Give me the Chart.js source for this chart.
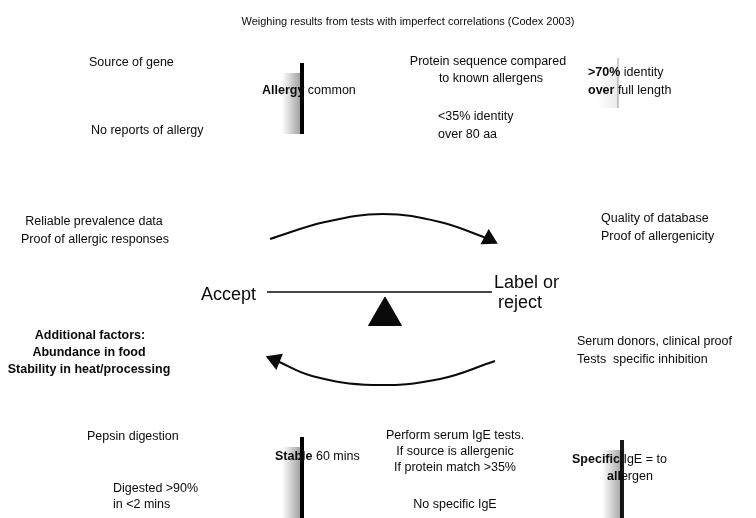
<!DOCTYPE html>
<html lang="en">
<head>
<meta charset="UTF-8">
<title>Weighing results from tests with imperfect correlations</title>
<script src="https://cdn.jsdelivr.net/npm/chart.js"></script>
<style>
    body {
        margin: 0;
        padding: 0;
        background-color: #ffffff;
        overflow: hidden;
    }
    .wrap {
        position: relative;
        width: 756px;
        height: 518px;
    }
</style>
</head>
<body>
<div class="wrap"><canvas id="diagram"></canvas></div>
<script>
    // Title
    const titleText = 'Weighing results from tests with imperfect correlations (Codex 2003)';
    const titlePos = [408, 22];

    // Small notes, *...* marks the bold part
    const noteText = [
        'Source of gene', '*Allergy* common', 'No reports of allergy',
        'Protein sequence compared', 'to known allergens',
        '*>70%* identity', '*over* full length',
        '<35% identity', 'over 80 aa',
        'Reliable prevalence data', 'Proof of allergic responses',
        'Quality of database', 'Proof of allergenicity',
        '*Additional factors:*', '*Abundance in food*', '*Stability in heat/processing*',
        'Serum donors, clinical proof', 'Tests  specific inhibition',
        'Pepsin digestion', '*Stable* 60 mins', 'Digested >90%', 'in <2 mins',
        'Perform serum IgE tests.', 'If source is allergenic', 'If protein match >35%', 'No specific IgE',
        '*Specific* IgE = to', '*all*ergen'
    ];
    const noteX = [
        89, 262, 91,
        488, 491,
        588, 588,
        438, 438,
        94, 95,
        601, 601,
        90, 89, 89,
        577, 577,
        87, 275, 113, 113,
        455, 455, 455, 455,
        572, 607
    ];
    const noteY = [
        63, 91, 131,
        62, 79,
        73, 91,
        117, 135,
        222, 240,
        219, 237,
        336, 353, 370,
        342, 360,
        437, 457, 489, 505,
        436, 452, 468, 505,
        460, 477
    ];
    const noteAlign = [
        'left', 'left', 'left',
        'center', 'center',
        'left', 'left',
        'left', 'left',
        'center', 'center',
        'left', 'left',
        'center', 'center', 'center',
        'left', 'left',
        'left', 'left', 'left', 'left',
        'center', 'center', 'center', 'center',
        'left', 'left'
    ];

    // Balance labels
    const scaleText = ['Accept', 'Label or', 'reject'];
    const scaleX = [256, 494, 498];
    const scaleY = [295, 283, 303];
    const scaleAlign = ['right', 'left', 'left'];

    // Balance beam and fulcrum
    const beamX = [267, 492];
    const beamY = [292, 292];
    const fulcrum = [385, 316];

    // Arrows (last point carries the head)
    const arcTopX = [270, 325, 383, 440, 489];
    const arcTopY = [239, 222, 214, 222, 239];
    const arcBottomX = [495, 440, 373, 312, 275];
    const arcBottomY = [361, 379, 385, 376, 360];

    // Weighing gauges: x, top, bottom, ink strength
    const gaugeX = [302, 618, 302, 622];
    const gaugeTop = [63, 58, 437, 440];
    const gaugeBottom = [134, 108, 518, 518];
    const gaugeInk = [1, 0.2, 1, 0.9];

    const FONT = '"Liberation Sans", Arial, sans-serif';
    const INK = '#0a0a0a';

    function drawRich(ctx, str, x, y, align, size) {
        const parts = str.split('*');
        const fonts = parts.map((p, i) => (i % 2 ? 'bold ' : '') + size + 'px ' + FONT);
        const widths = parts.map((p, i) => { ctx.font = fonts[i]; return ctx.measureText(p).width; });
        const total = widths.reduce((a, b) => a + b, 0);
        let cx = align === 'center' ? x - total / 2 : align === 'right' ? x - total : x;
        parts.forEach((p, i) => {
            ctx.font = fonts[i];
            ctx.fillText(p, cx, y);
            cx += widths[i];
        });
    }

    // gauge halo behind the core line
    const gaugePlugin = {
        id: 'gauges',
        beforeDatasetsDraw(chart) {
            const { ctx, scales } = chart;
            ctx.save();
            gaugeX.forEach((gx, i) => {
                const px = scales.x.getPixelForValue(gx);
                const top = scales.y.getPixelForValue(gaugeTop[i]);
                const bottom = scales.y.getPixelForValue(gaugeBottom[i]);
                const grad = ctx.createLinearGradient(px - 20, 0, px, 0);
                grad.addColorStop(0, 'rgba(0,0,0,0)');
                grad.addColorStop(1, 'rgba(0,0,0,' + (0.4 * gaugeInk[i]) + ')');
                ctx.fillStyle = grad;
                ctx.fillRect(px - 20, top + 10, 20, bottom - top - 10);
            });
            ctx.restore();
        }
    };

    const textPlugin = {
        id: 'texts',
        afterDatasetsDraw(chart) {
            const { ctx, scales } = chart;
            ctx.save();
            ctx.fillStyle = INK;
            ctx.textBaseline = 'middle';
            ctx.textAlign = 'left';
            drawRich(ctx, titleText, scales.x.getPixelForValue(titlePos[0]),
                scales.y.getPixelForValue(titlePos[1]), 'center', 11);
            noteText.forEach((t, i) => {
                drawRich(ctx, t, scales.x.getPixelForValue(noteX[i]),
                    scales.y.getPixelForValue(noteY[i]), noteAlign[i], 12.5);
            });
            scaleText.forEach((t, i) => {
                drawRich(ctx, t, scales.x.getPixelForValue(scaleX[i]),
                    scales.y.getPixelForValue(scaleY[i]), scaleAlign[i], 18);
            });
            ctx.restore();
        }
    };

    const toPoints = (xs, ys) => xs.map((x, i) => ({ x: x, y: ys[i] }));
    const headOnly = (n, r) => Array.from({ length: n }, (v, i) => (i === n - 1 ? r : 0));

    const datasets = [
        {
            label: 'to label',
            data: toPoints(arcTopX, arcTopY),
            showLine: true,
            tension: 0.4,
            borderColor: INK,
            borderWidth: 2,
            backgroundColor: INK,
            pointStyle: 'triangle',
            pointRadius: headOnly(arcTopX.length, 8),
            pointRotation: 118
        },
        {
            label: 'to accept',
            data: toPoints(arcBottomX, arcBottomY),
            showLine: true,
            tension: 0.4,
            borderColor: INK,
            borderWidth: 2,
            backgroundColor: INK,
            pointStyle: 'triangle',
            pointRadius: headOnly(arcBottomX.length, 8),
            pointRotation: 292
        },
        {
            label: 'beam',
            data: toPoints(beamX, beamY),
            showLine: true,
            borderColor: INK,
            borderWidth: 1.5,
            pointRadius: 0
        },
        {
            label: 'fulcrum',
            data: [{ x: fulcrum[0], y: fulcrum[1] }],
            pointStyle: 'triangle',
            pointRadius: 19,
            backgroundColor: INK,
            borderColor: INK,
            borderWidth: 1
        }
    ];

    gaugeX.forEach((gx, i) => {
        datasets.push({
            label: 'gauge ' + (i + 1),
            data: [{ x: gx, y: gaugeTop[i] }, { x: gx, y: gaugeBottom[i] }],
            showLine: true,
            borderColor: 'rgba(0,0,0,' + gaugeInk[i] + ')',
            borderWidth: gaugeInk[i] < 0.5 ? 2 : 4,
            pointRadius: 0
        });
    });

    new Chart(document.getElementById('diagram').getContext('2d'), {
        type: 'scatter',
        data: { datasets: datasets },
        options: {
            responsive: true,
            maintainAspectRatio: false,
            animation: false,
            layout: { padding: 0, autoPadding: false },
            scales: {
                x: { type: 'linear', min: 0, max: 756, display: false },
                y: { type: 'linear', min: 0, max: 518, reverse: true, display: false }
            },
            plugins: {
                legend: { display: false },
                tooltip: { enabled: false },
                title: { display: false }
            }
        },
        plugins: [gaugePlugin, textPlugin]
    });
</script>
</body>
</html>
